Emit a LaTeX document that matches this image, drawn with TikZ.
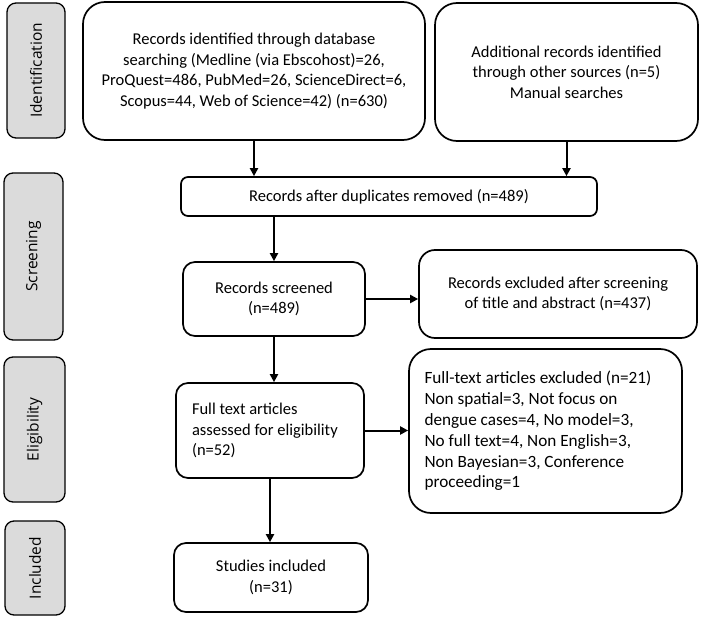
\documentclass[tikz,border=0pt]{standalone}
\usepackage{fontspec}
\setmainfont{Carlito}
\newfontfamily\sidefont{Open Sans}
\usetikzlibrary{arrows.meta}
\begin{document}
\begin{tikzpicture}[x=1pt,y=-1pt,
  box/.style={draw=black,line width=1.7pt,rounded corners=12pt,inner sep=0pt,
    font=\fontsize{16.5}{20.5}\selectfont,fill=white},
  bigbox/.style={box,rounded corners=22pt},
  side/.style={draw=black,line width=1.3pt,rounded corners=9pt,fill=gray!28,inner sep=0pt,
    font=\sidefont\fontsize{15.5}{18}\selectfont},
  arr/.style={line width=2pt,-{Triangle[length=8pt,width=8pt]}}]
\useasboundingbox (0,0) rectangle (702,618);
% side labels
\node[side,minimum width=58pt,minimum height=135pt] (s1) at (36,70.5) {\rotatebox{90}{Identification}};
\node[side,minimum width=59pt,minimum height=167pt] (s2) at (33.5,256.5) {\rotatebox{90}{Screening}};
\node[side,minimum width=61pt,minimum height=145pt] (s3) at (34.5,429.5) {\rotatebox{90}{Eligibility}};
\node[side,minimum width=60pt,minimum height=94pt] (s4) at (35,568) {\rotatebox{90}{Included}};
% main boxes
\node[bigbox,minimum width=342pt,minimum height=138pt,align=center] (b1) at (254,71)
 {Records identified through database\\searching (Medline (via Ebscohost)=26,\\ProQuest=486, PubMed=26, ScienceDirect=6,\\Scopus=44, Web of Science=42) (n=630)};
\node[bigbox,minimum width=263pt,minimum height=138pt,align=center] (b2) at (566.5,72)
 {Additional records identified\\through other sources (n=5)\\Manual searches};
\node[box,rounded corners=7pt,minimum width=416pt,minimum height=39pt] (dup) at (389,196.5)
 {Records after duplicates removed (n=489)};
\node[box,minimum width=182pt,minimum height=74pt,align=center] (scr) at (274,299)
 {Records screened\\(n=489)};
\node[box,rounded corners=16pt,minimum width=278pt,minimum height=88pt,align=center] (ex1) at (558,294)
 {Records excluded after screening\\of title and abstract (n=437)};
\node[box,minimum width=188pt,minimum height=95pt,align=left] (ft) at (270,430.5)
 {\parbox{156pt}{Full text articles\\assessed for eligibility\\(n=52)}};
\node[box,rounded corners=22pt,minimum width=273pt,minimum height=164pt,align=left,font=\fontsize{17.2}{20.8}\selectfont] (ex2) at (545.5,431)
 {\parbox{242pt}{Full-text articles excluded (n=21)\\Non spatial=3, Not focus on\\dengue cases=4, No model=3,\\No full text=4, Non English=3,\\Non Bayesian=3, Conference\\proceeding=1}};
\node[box,minimum width=194pt,minimum height=69pt,align=center] (inc) at (271,577.5)
 {Studies included\\(n=31)};
% arrows
\draw[arr] (b1.south) -- (b1.south |- dup.north);
\draw[arr] (b2.south) -- (b2.south |- dup.north);
\draw[arr] (scr.north |- dup.south) -- (scr.north);
\draw[arr] (scr.east) -- (scr.east -| ex1.west);
\draw[arr] (scr.south) -- (scr.south |- ft.north);
\draw[arr] (ft.east) -- (ft.east -| ex2.west);
\draw[arr] (ft.south) -- (ft.south |- inc.north);
\end{tikzpicture}
\end{document}
